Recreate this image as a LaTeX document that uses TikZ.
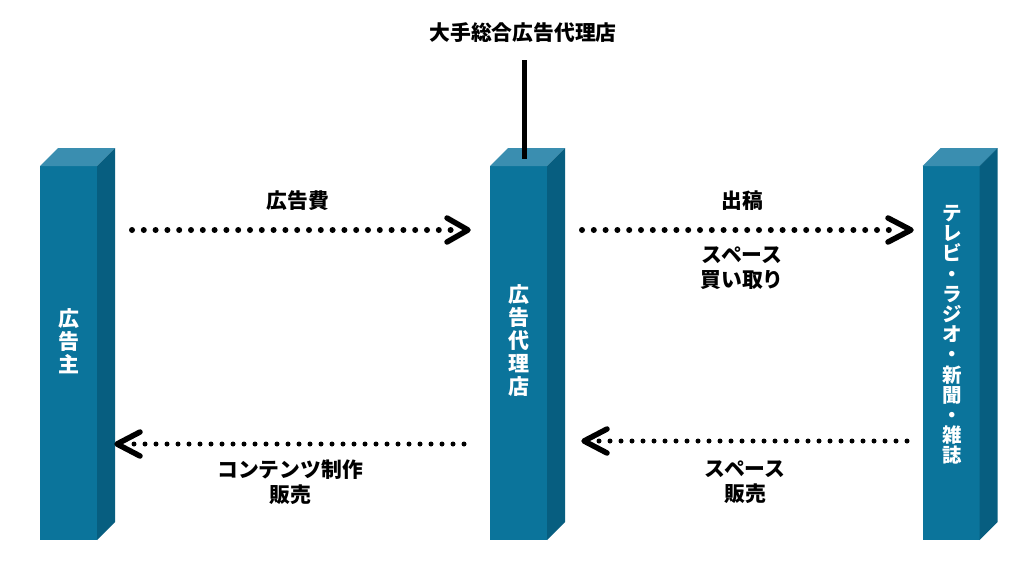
\documentclass[tikz,border=0pt]{standalone}
\usepackage{fontspec}
\setmainfont{Noto Sans CJK JP}
\definecolor{frontc}{HTML}{0B749B}
\definecolor{topc}{HTML}{3A8EB0}
\definecolor{sidec}{HTML}{075E80}
\tikzset{
  front/.style={fill=frontc, minimum width=57pt, minimum height=374pt, inner sep=0pt, outer sep=0pt},
  vtext/.style={text=white, align=center, inner sep=0pt, font=\bfseries\fontsize{21}{23}\selectfont},
  vtextsmall/.style={text=white, align=center, inner sep=0pt, font=\bfseries\fontsize{19.5}{20.2}\selectfont},
  lbl/.style={align=center, inner sep=0pt, font=\bfseries\fontsize{20.8}{25}\selectfont},
  dotsbig/.style={line width=6pt, line cap=round, dash pattern=on 0pt off 11.8pt},
  dotssmall/.style={line width=5pt, line cap=round, dash pattern=on 0pt off 11pt},
  chev/.style={line width=5.5pt, line cap=round, line join=round},
}
\newcommand{\mypillar}[1]{%
  \fill[topc] (#1.north west) -- ++(18,-18) -- ++(57,0) -- (#1.north east) -- cycle;
  \fill[sidec] (#1.north east) -- ++(18,-18) -- ++(0,374) -- (#1.south east) -- cycle;
}
\begin{document}
\begin{tikzpicture}[x=1pt,y=-1pt]
\useasboundingbox (0,0) rectangle (1024,565);
\fill[white] (0,0) rectangle (1024,565);

% title and connecting line
\node[lbl] (title) at (523,33) {大手総合広告代理店};
\coordinate (vt) at (524.5,60);
\coordinate (vb) at (524.5,159);

% pillars
\node[front] (p1) at (68.5,353) {};
\mypillar{p1}
\node[front] (p2) at (518.5,353) {};
\mypillar{p2}
\node[front] (p3) at (951,353) {};
\mypillar{p3}
\draw[line width=5.5pt] (vt) -- (vb);

\node[vtext] (t1) at (69,341) {広\\告\\主};
\node[vtext] (t2) at (519,341) {広\\告\\代\\理\\店};
\node[vtextsmall] (t3) at (952,335) {テ\\レ\\ビ\\・\\ラ\\ジ\\オ\\・\\新\\聞\\・\\雑\\誌};

% arrow 1: 広告主 -> 広告代理店
\coordinate (a1s) at (132,230);
\coordinate (a1e) at (457,230);
\coordinate (a1t) at (468,230);
\draw[dotsbig] (a1s) -- (a1e);
\draw[chev] ([shift={(-21,-12)}]a1t) -- (a1t) -- ([shift={(-21,12)}]a1t);
\node[lbl] (l1) at (298,201) {広告費};

% arrow 2: 広告代理店 -> media
\coordinate (a2s) at (582,230);
\coordinate (a2e) at (898,230);
\coordinate (a2t) at (911,230);
\draw[dotsbig] (a2s) -- (a2e);
\draw[chev] ([shift={(-23,-12)}]a2t) -- (a2t) -- ([shift={(-23,12)}]a2t);
\node[lbl] (l2) at (742,201) {出稿};
\node[lbl] (l3) at (742,268) {スペース\\買い取り};

% arrow 3: 広告代理店 -> 広告主
\coordinate (a3s) at (464,444);
\coordinate (a3e) at (130,444);
\coordinate (a3t) at (117,444);
\draw[dotssmall] (a3s) -- (a3e);
\draw[chev] ([shift={(23,-12)}]a3t) -- (a3t) -- ([shift={(23,12)}]a3t);
\node[lbl] (l4) at (290,482) {コンテンツ制作\\販売};

% arrow 4: media -> 広告代理店
\coordinate (a4s) at (907,441);
\coordinate (a4e) at (597,441);
\coordinate (a4t) at (584,441);
\draw[dotssmall] (a4s) -- (a4e);
\draw[chev] ([shift={(23,-12)}]a4t) -- (a4t) -- ([shift={(23,12)}]a4t);
\node[lbl] (l5) at (745,482) {スペース\\販売};
\end{tikzpicture}
\end{document}
